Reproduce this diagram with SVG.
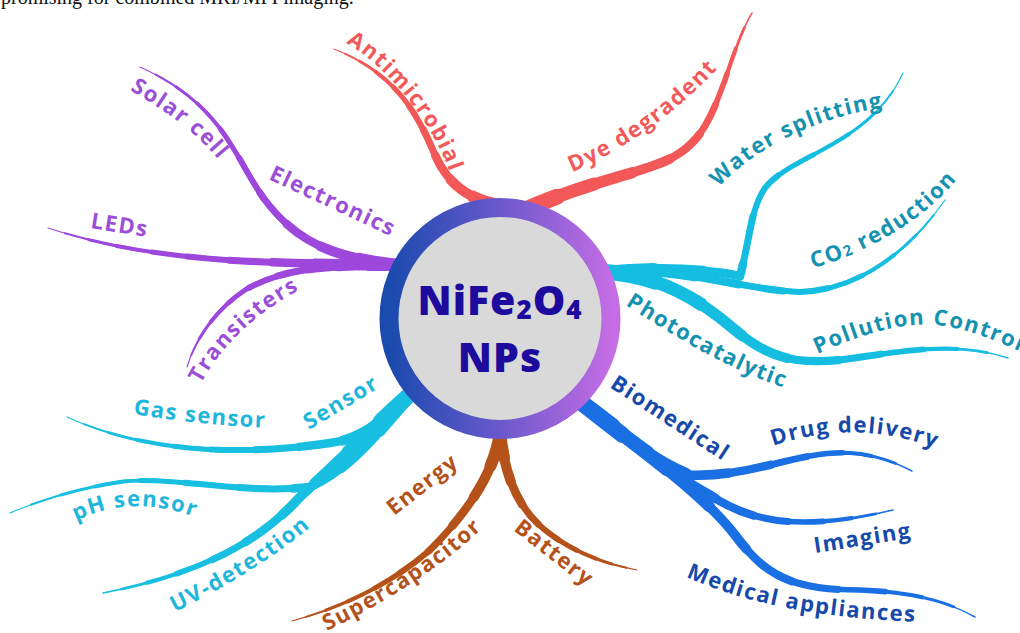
<svg xmlns="http://www.w3.org/2000/svg" xmlns:xlink="http://www.w3.org/1999/xlink" width="1020" height="633" viewBox="0 0 1020 633">
<style>
  .br{fill:none;stroke-linecap:round;stroke-linejoin:round}
  /* taper levels: each level draws the first N% of the branch, wider toward the hub */
  .a1{stroke-width:1.2}
  .a2{stroke-width:2;stroke-dasharray:95 300}
  .a3{stroke-width:3;stroke-dasharray:88 300}
  .a4{stroke-width:4;stroke-dasharray:80 300}
  .a5{stroke-width:5;stroke-dasharray:70 300}
  .a6{stroke-width:6;stroke-dasharray:60 300}
  .a7{stroke-width:7;stroke-dasharray:48 300}
  .a8{stroke-width:8.5;stroke-dasharray:36 300}
  .a9{stroke-width:10;stroke-dasharray:24 300}
  .a10{stroke-width:12;stroke-dasharray:12 300}
  .thick .a1{stroke-width:1.5}
  .thick .a2{stroke-width:2.8}
  .thick .a3{stroke-width:4.2}
  .thick .a4{stroke-width:5.6}
  .thick .a5{stroke-width:7}
  .thick .a6{stroke-width:8.3}
  .thick .a7{stroke-width:9.6}
  .thick .a8{stroke-width:11.3}
  .thick .a9{stroke-width:13.2}
  .thick .a10{stroke-width:16}
  .lbl{font-family:"Open Sans","Liberation Sans",sans-serif;font-weight:700;font-size:22px;letter-spacing:1.5px}
  .purple{fill:#9b4fd8}
  .red{fill:#f25a5a}
  .teal{fill:#1592b0}
  .cyan{fill:#1fb6dc}
  .brown{fill:#b4521b}
  .blue{fill:#1649a9}
  .hub{font-family:"Open Sans","Liberation Sans",sans-serif;font-weight:800;font-size:41px;fill:#1c0b9c;letter-spacing:1px}
</style>
<defs>
  <linearGradient id="ringGrad" x1="0" y1="0" x2="1" y2="0">
    <stop offset="0" stop-color="#1a4aad"/>
    <stop offset="0.5" stop-color="#6a58cc"/>
    <stop offset="1" stop-color="#c46de4"/>
  </linearGradient>
  <!-- branch centrelines (root at hub, tip outward) -->
  <path id="b-solar" pathLength="100" d="M400,265 C330,258 295,240 265,200 C235,160 225,105 140,67"/>
  <path id="b-leds" pathLength="100" d="M400,265 C300,262 170,268 48,228"/>
  <path id="b-trans" pathLength="100" d="M400,265 C320,264 280,270 245,290 C215,310 195,340 187,367"/>
  <path id="b-anti" pathLength="100" d="M500,205 C470,200 448,185 435,155 C420,120 400,75 334,49"/>
  <path id="b-dye" pathLength="100" d="M520,212 C580,185 620,178 655,165 C700,150 710,120 725,80 C735,50 742,30 752,13"/>
  <path id="b-water" pathLength="100" d="M605,272 C660,266 715,270 740,276 C750,240 750,210 765,188 C790,155 870,145 903,73"/>
  <path id="b-co2" pathLength="100" d="M605,272 C680,265 740,290 800,292 C860,290 910,250 945,200"/>
  <path id="b-poll" pathLength="100" d="M605,272 C660,275 700,300 735,330 C765,355 790,365 840,360 C900,352 950,340 1008,358"/>
  <path id="b-gas" pathLength="100" d="M415,390 C385,420 360,440 330,443 C250,455 150,455 67,417"/>
  <path id="b-ph" pathLength="100" d="M415,390 C380,430 350,470 310,487 C240,495 170,475 120,482 C80,488 40,500 10,513"/>
  <path id="b-uv" pathLength="100" d="M415,390 C370,430 330,470 300,497 C270,530 220,570 103,593"/>
  <path id="b-super" pathLength="100" d="M500,432 C495,470 470,510 430,550 C390,585 340,608 292,621"/>
  <path id="b-batt" pathLength="100" d="M500,432 C505,480 520,510 545,530 C570,550 600,563 637,570"/>
  <path id="b-drug" pathLength="100" d="M578,400 C620,430 650,460 690,475 C750,478 800,450 850,453 C880,455 900,465 912,471"/>
  <path id="b-img" pathLength="100" d="M578,400 C630,440 680,480 710,495 C750,522 800,532 893,510"/>
  <path id="b-med" pathLength="100" d="M578,400 C640,450 700,490 735,535 C765,575 790,590 860,590 C910,592 945,600 975,617"/>
  <!-- label baselines -->
  <path id="t-anti" d="M346,43 C380,62 425,110 447,165 l8,22"/>
  <path id="t-dye" d="M572,172 C625,150 680,110 722,64 l15,-17"/>
  <path id="t-water" d="M719,187 C748,155 805,120 880,108 l25,-4"/>
  <path id="t-co2" d="M813,268 C860,255 920,225 958,178 l15,-18"/>
  <path id="t-photo" d="M625,305 C680,340 730,370 785,388 l25,8"/>
  <path id="t-poll" d="M817,354 C860,335 900,322 935,325 C965,328 990,338 1030,356"/>
  <path id="t-gas" d="M133,414 Q200,425 270,428 l25,1"/>
  <path id="t-ph" d="M76,521 Q135,492 202,520 l20,10"/>
  <path id="t-uv" d="M175,612 C220,590 280,555 317,521 l15,-14"/>
  <path id="t-super" d="M327,631 C380,605 440,570 488,523 l15,-15"/>
  <path id="t-solar" d="M130,90 C160,108 195,130 220,162 l12,16"/>
  <path id="t-trans" d="M201,384 C218,350 255,312 305,287 l25,-11"/>
  <path id="t-med" d="M686,577 C735,598 800,618 924,622 l30,1"/>
  <path id="t-drug" d="M773,446 Q855,418 935,448 l20,8"/>
</defs>

<!-- caption line at the top edge -->
<text x="1" y="4" font-family="Liberation Serif, serif" font-size="20" fill="#111">promising for combined MRI/MPI imaging.</text>

<g id="connectors">
  <g id="electronics-branches" class="br" stroke="#9d47dc">
    <use href="#b-solar" class="a1"/><use href="#b-solar" class="a2"/><use href="#b-solar" class="a3"/><use href="#b-solar" class="a4"/><use href="#b-solar" class="a5"/><use href="#b-solar" class="a6"/><use href="#b-solar" class="a7"/><use href="#b-solar" class="a8"/><use href="#b-solar" class="a9"/><use href="#b-solar" class="a10"/>
    <use href="#b-leds" class="a1"/><use href="#b-leds" class="a2"/><use href="#b-leds" class="a3"/><use href="#b-leds" class="a4"/><use href="#b-leds" class="a5"/><use href="#b-leds" class="a6"/><use href="#b-leds" class="a7"/><use href="#b-leds" class="a8"/><use href="#b-leds" class="a9"/><use href="#b-leds" class="a10"/>
    <use href="#b-trans" class="a1"/><use href="#b-trans" class="a2"/><use href="#b-trans" class="a3"/><use href="#b-trans" class="a4"/><use href="#b-trans" class="a5"/><use href="#b-trans" class="a6"/><use href="#b-trans" class="a7"/><use href="#b-trans" class="a8"/><use href="#b-trans" class="a9"/><use href="#b-trans" class="a10"/>
  </g>
  <g id="antimicrobial-branch" class="br" stroke="#f25858">
    <use href="#b-anti" class="a1"/><use href="#b-anti" class="a2"/><use href="#b-anti" class="a3"/><use href="#b-anti" class="a4"/><use href="#b-anti" class="a5"/><use href="#b-anti" class="a6"/><use href="#b-anti" class="a7"/><use href="#b-anti" class="a8"/><use href="#b-anti" class="a9"/><use href="#b-anti" class="a10"/>
  </g>
  <g id="dye-branch" class="br thick" stroke="#f25858">
    <use href="#b-dye" class="a1"/><use href="#b-dye" class="a2"/><use href="#b-dye" class="a3"/><use href="#b-dye" class="a4"/><use href="#b-dye" class="a5"/><use href="#b-dye" class="a6"/><use href="#b-dye" class="a7"/><use href="#b-dye" class="a8"/><use href="#b-dye" class="a9"/><use href="#b-dye" class="a10"/>
  </g>
  <g id="photocatalytic-branches" class="br" stroke="#15bde0">
    <use href="#b-water" class="a1"/><use href="#b-water" class="a2"/><use href="#b-water" class="a3"/><use href="#b-water" class="a4"/><use href="#b-water" class="a5"/><use href="#b-water" class="a6"/><use href="#b-water" class="a7"/><use href="#b-water" class="a8"/><use href="#b-water" class="a9"/><use href="#b-water" class="a10"/>
    <use href="#b-co2" class="a1"/><use href="#b-co2" class="a2"/><use href="#b-co2" class="a3"/><use href="#b-co2" class="a4"/><use href="#b-co2" class="a5"/><use href="#b-co2" class="a6"/><use href="#b-co2" class="a7"/><use href="#b-co2" class="a8"/><use href="#b-co2" class="a9"/><use href="#b-co2" class="a10"/>
  </g>
  <g id="pollution-branch" class="br thick" stroke="#15bde0">
    <use href="#b-poll" class="a1"/><use href="#b-poll" class="a2"/><use href="#b-poll" class="a3"/><use href="#b-poll" class="a4"/><use href="#b-poll" class="a5"/><use href="#b-poll" class="a6"/><use href="#b-poll" class="a7"/><use href="#b-poll" class="a8"/><use href="#b-poll" class="a9"/><use href="#b-poll" class="a10"/>
  </g>
  <g id="sensor-branches" class="br" stroke="#18bfe0">
    <use href="#b-gas" class="a1"/><use href="#b-gas" class="a2"/><use href="#b-gas" class="a3"/><use href="#b-gas" class="a4"/><use href="#b-gas" class="a5"/><use href="#b-gas" class="a6"/><use href="#b-gas" class="a7"/><use href="#b-gas" class="a8"/><use href="#b-gas" class="a9"/><use href="#b-gas" class="a10"/>
    <use href="#b-ph" class="a1"/><use href="#b-ph" class="a2"/><use href="#b-ph" class="a3"/><use href="#b-ph" class="a4"/><use href="#b-ph" class="a5"/><use href="#b-ph" class="a6"/><use href="#b-ph" class="a7"/><use href="#b-ph" class="a8"/><use href="#b-ph" class="a9"/><use href="#b-ph" class="a10"/>
  </g>
  <g id="uv-branch" class="br thick" stroke="#18bfe0">
    <use href="#b-uv" class="a1"/><use href="#b-uv" class="a2"/><use href="#b-uv" class="a3"/><use href="#b-uv" class="a4"/><use href="#b-uv" class="a5"/><use href="#b-uv" class="a6"/><use href="#b-uv" class="a7"/><use href="#b-uv" class="a8"/><use href="#b-uv" class="a9"/><use href="#b-uv" class="a10"/>
  </g>
  <g id="energy-branches" class="br" stroke="#b4521a">
    <use href="#b-super" class="a1"/><use href="#b-super" class="a2"/><use href="#b-super" class="a3"/><use href="#b-super" class="a4"/><use href="#b-super" class="a5"/><use href="#b-super" class="a6"/><use href="#b-super" class="a7"/><use href="#b-super" class="a8"/><use href="#b-super" class="a9"/><use href="#b-super" class="a10"/>
    <use href="#b-batt" class="a1"/><use href="#b-batt" class="a2"/><use href="#b-batt" class="a3"/><use href="#b-batt" class="a4"/><use href="#b-batt" class="a5"/><use href="#b-batt" class="a6"/><use href="#b-batt" class="a7"/><use href="#b-batt" class="a8"/><use href="#b-batt" class="a9"/><use href="#b-batt" class="a10"/>
  </g>
  <g id="biomedical-branches" class="br thick" stroke="#1a6fe2">
    <use href="#b-drug" class="a1"/><use href="#b-drug" class="a2"/><use href="#b-drug" class="a3"/><use href="#b-drug" class="a4"/><use href="#b-drug" class="a5"/><use href="#b-drug" class="a6"/><use href="#b-drug" class="a7"/><use href="#b-drug" class="a8"/><use href="#b-drug" class="a9"/><use href="#b-drug" class="a10"/>
    <use href="#b-img" class="a1"/><use href="#b-img" class="a2"/><use href="#b-img" class="a3"/><use href="#b-img" class="a4"/><use href="#b-img" class="a5"/><use href="#b-img" class="a6"/><use href="#b-img" class="a7"/><use href="#b-img" class="a8"/><use href="#b-img" class="a9"/><use href="#b-img" class="a10"/>
    <use href="#b-med" class="a1"/><use href="#b-med" class="a2"/><use href="#b-med" class="a3"/><use href="#b-med" class="a4"/><use href="#b-med" class="a5"/><use href="#b-med" class="a6"/><use href="#b-med" class="a7"/><use href="#b-med" class="a8"/><use href="#b-med" class="a9"/><use href="#b-med" class="a10"/>
  </g>
</g>

<g id="hub">
  <circle cx="500" cy="318.5" r="111" fill="#d9d9d9" stroke="url(#ringGrad)" stroke-width="19"/>
  <text class="hub" x="500" y="315" text-anchor="middle">NiFe<tspan font-size="26" dy="4">2</tspan><tspan dy="-4">O</tspan><tspan font-size="26" dy="4">4</tspan></text>
  <text class="hub" x="500" y="372" text-anchor="middle">NPs</text>
</g>

<g id="electronics">
  <text class="lbl purple" transform="translate(268,179) rotate(25)">Electronics</text>
  <text class="lbl purple"><textPath href="#t-solar">Solar cell</textPath></text>
  <text class="lbl purple" transform="translate(90,228) rotate(9)">LEDs</text>
  <text class="lbl purple"><textPath href="#t-trans">Transisters</textPath></text>
</g>
<g id="antimicrobial">
  <text class="lbl red"><textPath href="#t-anti">Antimicrobial</textPath></text>
</g>
<g id="dye-degradent">
  <text class="lbl red"><textPath href="#t-dye">Dye degradent</textPath></text>
</g>
<g id="photocatalytic">
  <text class="lbl teal"><textPath href="#t-photo">Photocatalytic</textPath></text>
  <text class="lbl teal"><textPath href="#t-water">Water splitting</textPath></text>
  <text class="lbl teal"><textPath href="#t-co2">CO<tspan font-size="15">2</tspan> reduction</textPath></text>
  <text class="lbl teal"><textPath href="#t-poll">Pollution Control</textPath></text>
</g>
<g id="sensor">
  <text class="lbl cyan" transform="translate(309,430) rotate(-31)">Sensor</text>
  <text class="lbl cyan"><textPath href="#t-gas">Gas sensor</textPath></text>
  <text class="lbl cyan"><textPath href="#t-ph">pH sensor</textPath></text>
  <text class="lbl cyan"><textPath href="#t-uv">UV-detection</textPath></text>
</g>
<g id="energy">
  <text class="lbl brown" transform="translate(394,516) rotate(-38)">Energy</text>
  <text class="lbl brown"><textPath href="#t-super">Supercapacitor</textPath></text>
  <text class="lbl brown" transform="translate(513,530) rotate(38)">Battery</text>
</g>
<g id="biomedical">
  <text class="lbl blue" transform="translate(609,387) rotate(33)">Biomedical</text>
  <text class="lbl blue"><textPath href="#t-drug">Drug delivery</textPath></text>
  <text class="lbl blue" transform="translate(815,553) rotate(-9)">Imaging</text>
  <text class="lbl blue"><textPath href="#t-med">Medical appliances</textPath></text>
</g>
</svg>
